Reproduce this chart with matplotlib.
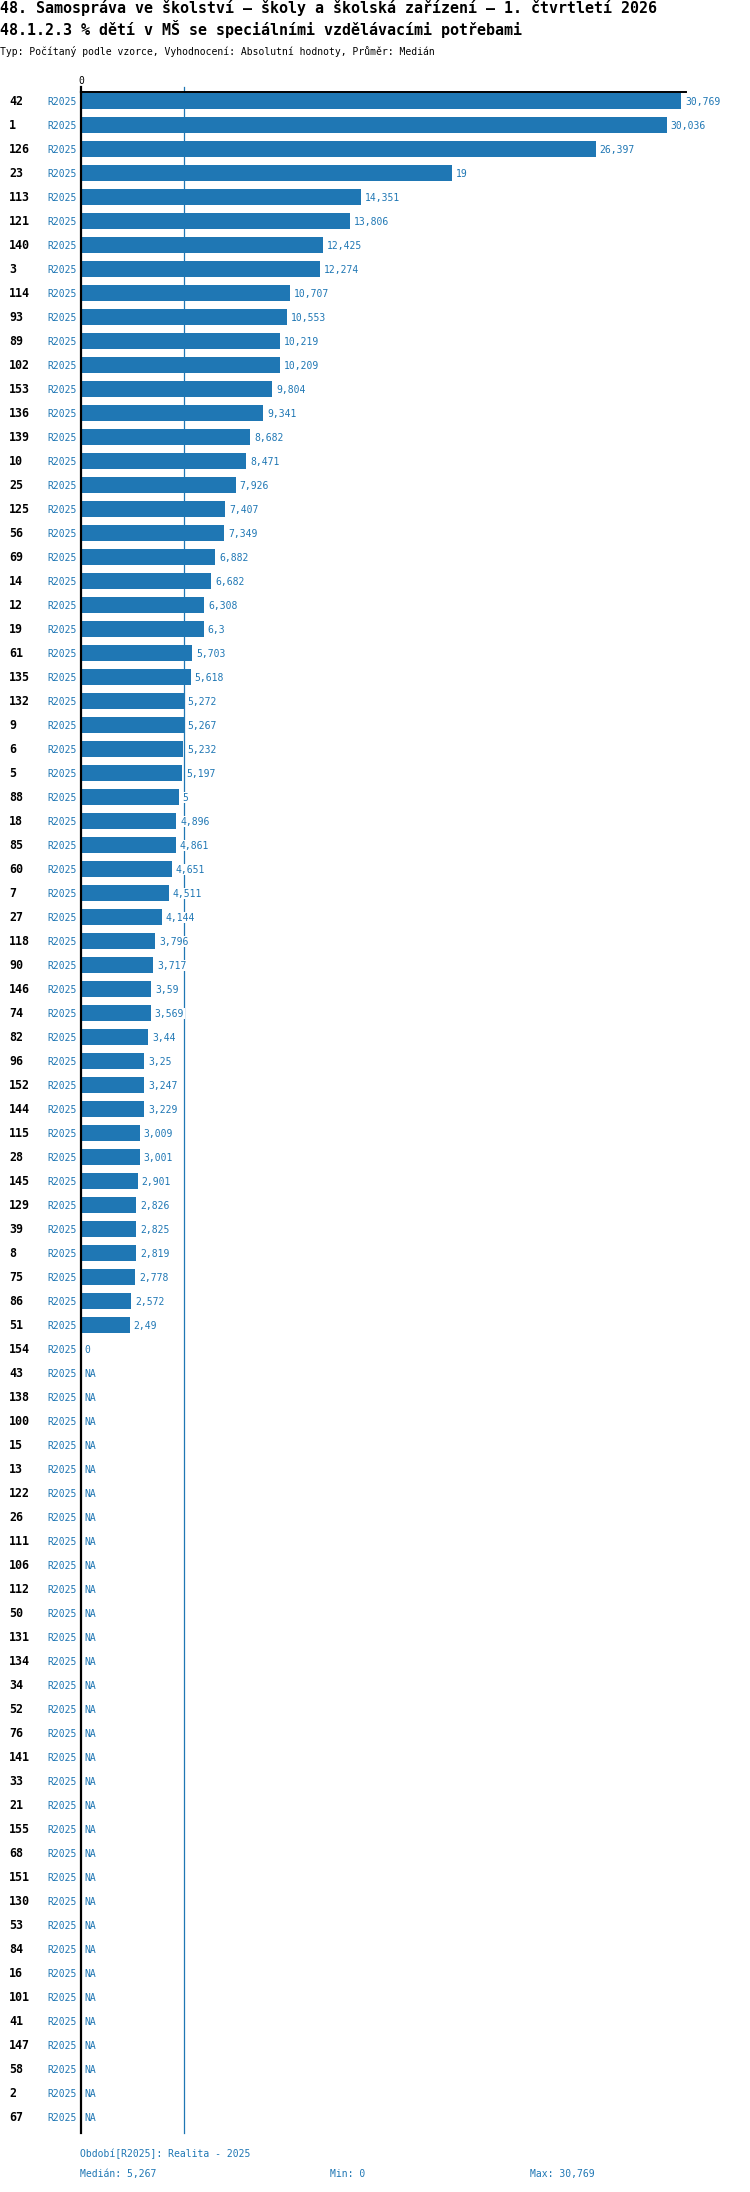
import numpy as np
import matplotlib
matplotlib.use("Agg")
import matplotlib.pyplot as plt
from matplotlib.transforms import blended_transform_factory

# row labels (top to bottom) and their values, None = NA
labels = ["42", "1", "126", "23", "113", "121", "140", "3", "114", "93",
          "89", "102", "153", "136", "139", "10", "25", "125", "56", "69",
          "14", "12", "19", "61", "135", "132", "9", "6", "5", "88",
          "18", "85", "60", "7", "27", "118", "90", "146", "74", "82",
          "96", "152", "144", "115", "28", "145", "129", "39", "8", "75",
          "86", "51", "154",
          "43", "138", "100", "15", "13", "122", "26", "111", "106", "112",
          "50", "131", "134", "34", "52", "76", "141", "33", "21", "155",
          "68", "151", "130", "53", "84", "16", "101", "41", "147", "58",
          "2", "67"]
values = [30.769, 30.036, 26.397, 19, 14.351, 13.806, 12.425, 12.274, 10.707, 10.553,
          10.219, 10.209, 9.804, 9.341, 8.682, 8.471, 7.926, 7.407, 7.349, 6.882,
          6.682, 6.308, 6.3, 5.703, 5.618, 5.272, 5.267, 5.232, 5.197, 5,
          4.896, 4.861, 4.651, 4.511, 4.144, 3.796, 3.717, 3.59, 3.569, 3.44,
          3.25, 3.247, 3.229, 3.009, 3.001, 2.901, 2.826, 2.825, 2.819, 2.778,
          2.572, 2.49, 0] + [None] * 32
period = "R2025"
median_val = 5.267
min_val = 0
max_val = 30.769

title = "48. Samospráva ve školství – školy a školská zařízení – 1. čtvrtletí 2026"
subtitle = "48.1.2.3 % dětí v MŠ se speciálními vzdělávacími potřebami"
info = "Typ: Počítaný podle vzorce, Vyhodnocení: Absolutní hodnoty, Průměr: Medián"
footer1 = "Období[R2025]: Realita - 2025"


def fmt(v):
    return ("%g" % v).replace(".", ",")


plt.rcParams["font.family"] = ["DejaVu Sans Mono", "DejaVu Sans"]
blue = "#1f77b4"
W, H = 750, 2192
fig = plt.figure(figsize=(W / 100, H / 100), dpi=100)

# axes placement in pixels
x0, x1 = 81, 686
y_top, y_bot = 92, 2133
ax = fig.add_axes([x0 / W, 1 - y_bot / H, (x1 - x0) / W, (y_bot - y_top) / H])

n = len(labels)
xmax = max_val * (x1 - x0) / 600.0
px_unit = (x1 - x0) / xmax
ax.set_xlim(0, xmax)
ax.set_ylim(n - 1 + 0.667, -0.375)

vals = np.array([np.nan if v is None else v for v in values], dtype=float)
ypos = np.arange(n)

# median line behind bars
ext = -0.375 - 5 / 24.0
ax.plot([median_val, median_val], [ext, n - 1 + 0.667], color=blue, lw=0.9,
        zorder=1, clip_on=False)
ax.barh(ypos, np.nan_to_num(vals), height=2 / 3, color=blue, zorder=2)

for s in ["right", "bottom"]:
    ax.spines[s].set_visible(False)
ax.spines["left"].set_linewidth(1.6)
ax.spines["top"].set_linewidth(1.4)
ax.plot([0, 0], [ext, -0.375], color="black", lw=1.6, clip_on=False)
ax.set_xticks([])
ax.set_yticks([])
ax.text(0, ext - 0.05, "0", fontsize=7, color="black", ha="center", va="bottom")

lab_tr = blended_transform_factory(fig.transFigure, ax.transData)
for i, (lab, v) in enumerate(zip(labels, vals)):
    ax.text(9 / W, i + 0.18, lab, transform=lab_tr, fontsize=8.4,
            fontweight="bold", color="black", va="baseline", ha="left")
    ax.text(77 / W, i + 0.15, period, transform=lab_tr, fontsize=7,
            color=blue, va="baseline", ha="right")
    if np.isnan(v):
        txt, xv = "NA", 3 / px_unit
    elif v == 0:
        txt, xv = fmt(v), 3 / px_unit
    else:
        txt, xv = fmt(v), v + 4 / px_unit
    ax.text(xv, i + 0.15, txt, fontsize=7, color=blue, va="baseline",
            ha="left", zorder=3, clip_on=False,
            bbox=dict(facecolor="white", edgecolor="none", pad=0.5))

# header texts
fig.text(0, 1 - 13.5 / H, title, fontsize=10.8, fontweight="bold",
         va="baseline", ha="left")
fig.text(0, 1 - 35 / H, subtitle, fontsize=10.8, fontweight="bold",
         va="baseline", ha="left")
fig.text(0, 1 - 55 / H, info, fontsize=7, va="baseline", ha="left")

# footer
fig.text(80 / W, 1 - 2157 / H, footer1, fontsize=7, color=blue,
         va="baseline", ha="left")
fig.text(80 / W, 1 - 2177 / H, "Medián: " + fmt(median_val), fontsize=7,
         color=blue, va="baseline", ha="left")
fig.text(330 / W, 1 - 2177 / H, "Min: " + fmt(min_val), fontsize=7,
         color=blue, va="baseline", ha="left")
fig.text(530 / W, 1 - 2177 / H, "Max: " + fmt(max_val), fontsize=7,
         color=blue, va="baseline", ha="left")

fig.savefig("out.png", dpi=100)
